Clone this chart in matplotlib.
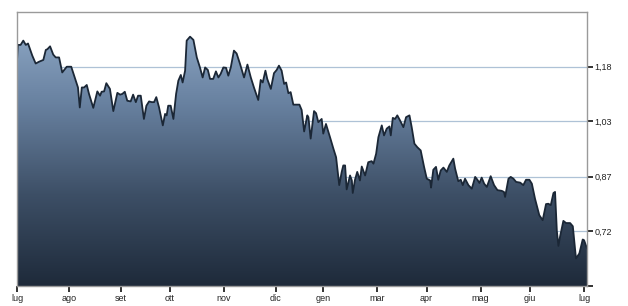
import numpy as np
import matplotlib
matplotlib.use("Agg")
import matplotlib.pyplot as plt
from matplotlib.colors import LinearSegmentedColormap
from matplotlib.patches import Polygon

# trading-day index and price values
days = [0, 0.4, 1.6, 2.8, 3.9, 4.9, 6.8, 8.3, 9.8, 11.7, 12.8, 13.5, 14.7, 16.1, 17.2, 18.7,
        20.1, 22.1, 24.1, 26.1, 27.1, 27.9, 28.8, 29.8, 31.0, 32.0, 33.9, 35.7, 36.9, 37.6,
        38.7, 39.7, 41.3, 42.8, 44.6, 45.8, 46.8, 47.9, 49.0, 50.5, 51.6, 52.8, 53.8, 55.0,
        56.4, 57.5, 58.7, 59.9, 60.9, 61.9, 63.1, 64.8, 65.8, 66.5, 67.2, 68.3, 69.5, 70.7,
        71.7, 72.8, 73.6, 74.7, 75.4, 76.9, 78.4, 79.9, 81.3, 82.5, 83.6, 84.8, 85.8, 87.2,
        88.4, 89.5, 90.5, 91.7, 92.9, 93.9, 95.0, 96.4, 97.6, 99.1, 100.9, 102.4, 103.9,
        105.3, 107.2, 108.3, 109.2, 110.4, 111.2, 112.8, 114.2, 115.4, 116.4, 117.6, 118.7,
        119.6, 120.6, 121.6, 122.8, 124.3, 125.5, 126.5, 127.6, 129.0, 129.5, 130.5, 132.0,
        132.9, 133.9, 135.4, 136.1, 137.3, 139.1, 140.6, 141.8, 143.2, 144.3, 145.0, 145.8,
        146.5, 148.0, 148.8, 149.2, 150.2, 151.2, 152.4, 153.2, 154.7, 156.1, 157.6, 158.4,
        159.6, 160.6, 162.1, 163.1, 164.3, 165.5, 166.1, 167.0, 168.0, 169.0, 170.2, 171.7,
        172.9, 174.4, 175.4, 176.6, 177.9, 179.4, 180.9, 182.1, 183.6, 184.0, 185.0, 186.2,
        187.2, 188.3, 189.5, 191.0, 192.1, 193.9, 194.7, 196.1, 197.2, 198.1, 199.1, 200.6,
        202.1, 203.6, 204.6, 205.5, 206.5, 207.6, 208.8, 210.5, 212.0, 213.5, 215.4, 216.4,
        216.9, 218.4, 219.4, 220.6, 221.8, 223.6, 225.0, 226.2, 227.7, 228.8, 230.2, 232.1,
        233.6, 235.1, 236.1, 237.2, 238.4, 239.1, 239.9, 240.6, 241.3, 242.8, 244.0, 245.8,
        247.0, 248.4, 249.9, 251.4, 252.0, 253.3]
prices = [1.197, 1.241, 1.241, 1.253, 1.241, 1.245, 1.211, 1.189, 1.194, 1.199, 1.227, 1.229,
          1.237, 1.214, 1.206, 1.206, 1.164, 1.180, 1.180, 1.141, 1.122, 1.066, 1.122, 1.122,
          1.129, 1.104, 1.065, 1.111, 1.099, 1.110, 1.111, 1.134, 1.118, 1.056, 1.107, 1.102,
          1.104, 1.110, 1.085, 1.083, 1.102, 1.081, 1.099, 1.099, 1.034, 1.071, 1.083, 1.081,
          1.081, 1.095, 1.067, 1.016, 1.048, 1.044, 1.071, 1.071, 1.034, 1.104, 1.141, 1.157,
          1.136, 1.169, 1.253, 1.264, 1.255, 1.206, 1.178, 1.150, 1.178, 1.171, 1.146, 1.146,
          1.167, 1.150, 1.160, 1.178, 1.177, 1.155, 1.178, 1.225, 1.217, 1.188, 1.150, 1.186,
          1.150, 1.122, 1.087, 1.143, 1.136, 1.169, 1.146, 1.118, 1.162, 1.171, 1.183, 1.169,
          1.132, 1.136, 1.106, 1.109, 1.074, 1.074, 1.074, 1.059, 0.999, 1.044, 1.039, 0.979,
          1.056, 1.050, 1.025, 1.034, 0.993, 1.020, 0.983, 0.951, 0.927, 0.849, 0.886, 0.904,
          0.904, 0.837, 0.876, 0.862, 0.827, 0.864, 0.886, 0.862, 0.901, 0.876, 0.913, 0.916,
          0.909, 0.937, 0.983, 1.016, 0.988, 1.007, 1.013, 0.988, 1.037, 1.034, 1.044, 1.030,
          1.011, 1.039, 1.044, 1.011, 0.965, 0.955, 0.946, 0.900, 0.867, 0.862, 0.842, 0.892,
          0.900, 0.864, 0.890, 0.898, 0.886, 0.904, 0.923, 0.895, 0.860, 0.864, 0.849, 0.867,
          0.849, 0.839, 0.872, 0.864, 0.855, 0.870, 0.853, 0.844, 0.874, 0.849, 0.835, 0.833,
          0.830, 0.816, 0.867, 0.872, 0.867, 0.858, 0.856, 0.849, 0.864, 0.864, 0.853, 0.811,
          0.765, 0.751, 0.796, 0.797, 0.793, 0.827, 0.830, 0.721, 0.679, 0.704, 0.749, 0.743,
          0.743, 0.734, 0.644, 0.658, 0.697, 0.695, 0.672]

month_ticks = [0, 23, 46, 68, 92, 115, 136, 160, 182, 206, 228, 252]
month_labels = ["lug", "ago", "set", "ott", "nov", "dic", "gen", "mar", "apr", "mag", "giu", "lug"]

y_ticks = [0.567, 0.720, 0.873, 1.027, 1.180]
y_labels = ["", "0,72", "0,87", "1,03", "1,18"]
y_min, y_max = 0.567, 1.333

fig = plt.figure(figsize=(6.28, 3.06), dpi=100)
ax = fig.add_axes([17 / 628, 20 / 306, 570 / 628, 274 / 306])
ax.set_xlim(0, days[-1])
ax.set_ylim(y_min, y_max)

# horizontal grid lines behind the area
for yv in y_ticks[1:]:
    ax.axhline(yv, color="#aec2d6", lw=0.9, zorder=1)

# gradient fill clipped to area
cmap = LinearSegmentedColormap.from_list("g", ["#1e2a3a", "#3d4f66", "#6881a0", "#94aecb"])
grad = np.linspace(0, 1, 256).reshape(-1, 1)
im = ax.imshow(grad, extent=[0, days[-1], y_min, y_max], origin="lower", aspect="auto",
               cmap=cmap, zorder=2)
verts = [(days[0], y_min)] + list(zip(days, prices)) + [(days[-1], y_min)]
poly = Polygon(verts, closed=True, facecolor="none", edgecolor="none")
ax.add_patch(poly)
im.set_clip_path(poly)

ax.plot(days, prices, color="#1b2736", lw=1.3, zorder=3, solid_joinstyle="round")

for s in ax.spines.values():
    s.set_color("#9a9a9a")
    s.set_linewidth(1.0)
    s.set_zorder(4)

ax.yaxis.tick_right()
ax.set_yticks(y_ticks)
ax.set_yticklabels(y_labels)
ax.set_xticks(month_ticks)
ax.set_xticklabels(month_labels)
ax.tick_params(axis="both", direction="out", length=4, width=1.2, color="#111111",
               labelsize=6.5, labelcolor="#222222", pad=1.5)
for lab in ax.get_xticklabels() + ax.get_yticklabels():
    lab.set_fontfamily("Liberation Sans")

fig.savefig("out.png", dpi=100)
